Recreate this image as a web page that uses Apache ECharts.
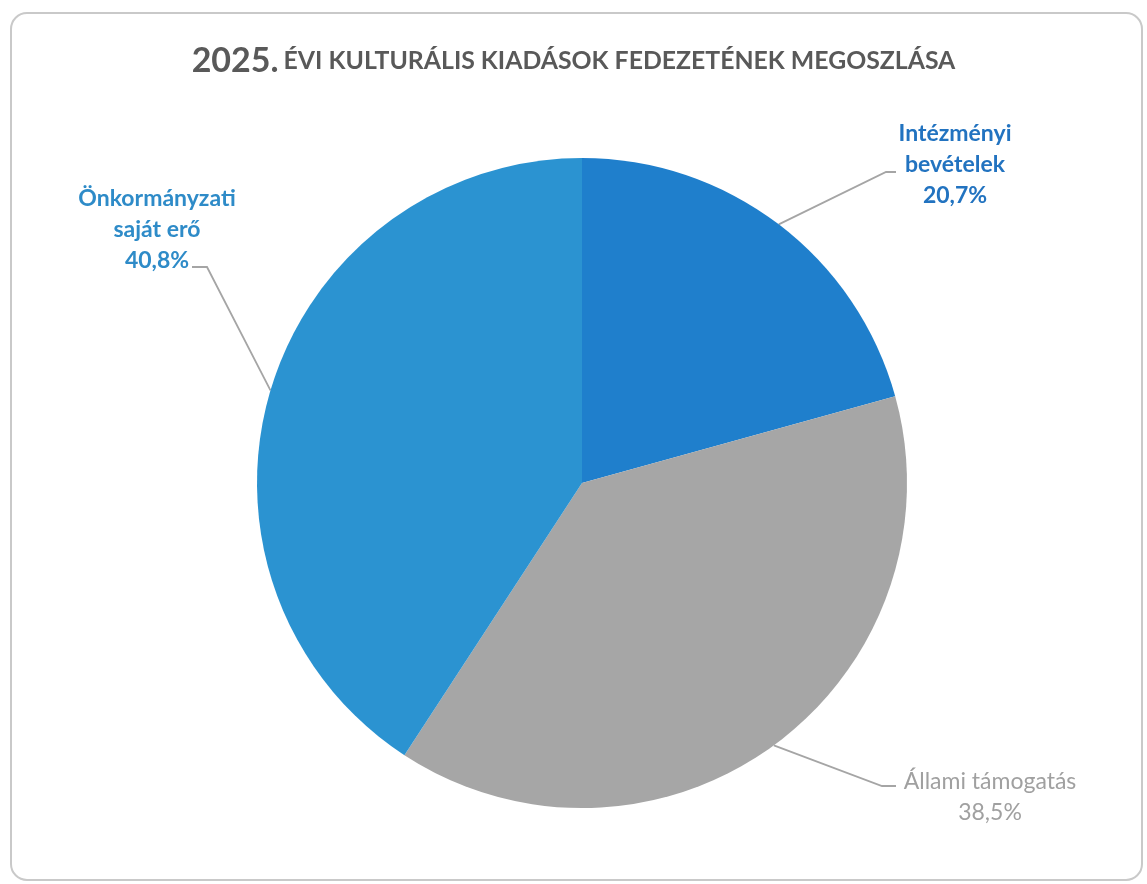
<!DOCTYPE html>
<html>
<head>
<meta charset="utf-8">
<script src="https://cdn.jsdelivr.net/npm/echarts@6/dist/echarts.min.js"></script>
<style>
html,body{margin:0;padding:0;background:#fff;}
#chart{width:1147px;height:884px;}
</style>
</head>
<body>
<div id="chart"></div>
<script>
// ---- data ----
const titleYear = '2025.';
const titleRest = 'ÉVI KULTURÁLIS KIADÁSOK FEDEZETÉNEK MEGOSZLÁSA';
const categories = ['Intézményi\nbevételek', 'Állami támogatás', 'Önkormányzati\nsaját erő'];
const values = [20.7, 38.5, 40.8];

// ---- styles / layout ----
const sliceColors = ['#1f7fcc', '#a6a6a6', '#2b93d1'];
const labelColors = ['#2273c0', '#a0a0a0', '#2e8bc8'];
// label centre positions and line elbow anchors (layout only)
const labelPos = [
  { x: 955, y: 165, elbow: [886, 172], end: [896, 172] },
  { x: 990, y: 797, elbow: [882, 786], end: [896, 786] },
  { x: 157, y: 230, elbow: [207, 267], end: [192, 267] }
];

const chart = echarts.init(document.getElementById('chart'));
const fmt = v => v.toFixed(1).replace('.', ',') + '%';

chart.setOption({
  animation: false,
  backgroundColor: '#ffffff',
  graphic: [{
    type: 'rect',
    shape: { x: 11, y: 13, width: 1131, height: 867, r: 16 },
    style: { fill: 'none', stroke: '#c9c9c9', lineWidth: 2 },
    z: -1
  }],
  title: {
    left: 'center',
    top: 39,
    text: '{a|' + titleYear + '} {b|' + titleRest + '}',
    textStyle: {
      rich: {
        a: { fontFamily: 'Lato', fontWeight: 'bold', fontSize: 34, color: '#595959' },
        b: { fontFamily: 'Lato', fontWeight: 'bold', fontSize: 24.8, color: '#595959' }
      }
    }
  },
  series: [{
    type: 'pie',
    center: [582, 483],
    radius: [0, 325],
    startAngle: 90,
    clockwise: true,
    data: categories.map((c, i) => ({
      name: c,
      value: values[i],
      itemStyle: { color: sliceColors[i] },
      label: { color: labelColors[i], fontWeight: i === 1 ? 'normal' : 'bold' }
    })),
    label: {
      show: true,
      position: 'outside',
      fontFamily: 'Lato',
      fontSize: 23,
      lineHeight: 31,
      align: 'center',
      formatter: p => p.name + '\n' + fmt(p.value)
    },
    labelLine: {
      show: true,
      length: 20,
      length2: 10,
      lineStyle: { color: '#a5a5a5', width: 1.8 }
    },
    labelLayout: function (params) {
      const lp = labelPos[params.dataIndex];
      const pts = params.labelLinePoints;
      const start = pts ? pts[0] : lp.elbow;
      return {
        x: lp.x,
        y: lp.y,
        align: 'center',
        verticalAlign: 'middle',
        labelLinePoints: [start, lp.elbow, lp.end]
      };
    }
  }]
});
</script>
</body>
</html>
